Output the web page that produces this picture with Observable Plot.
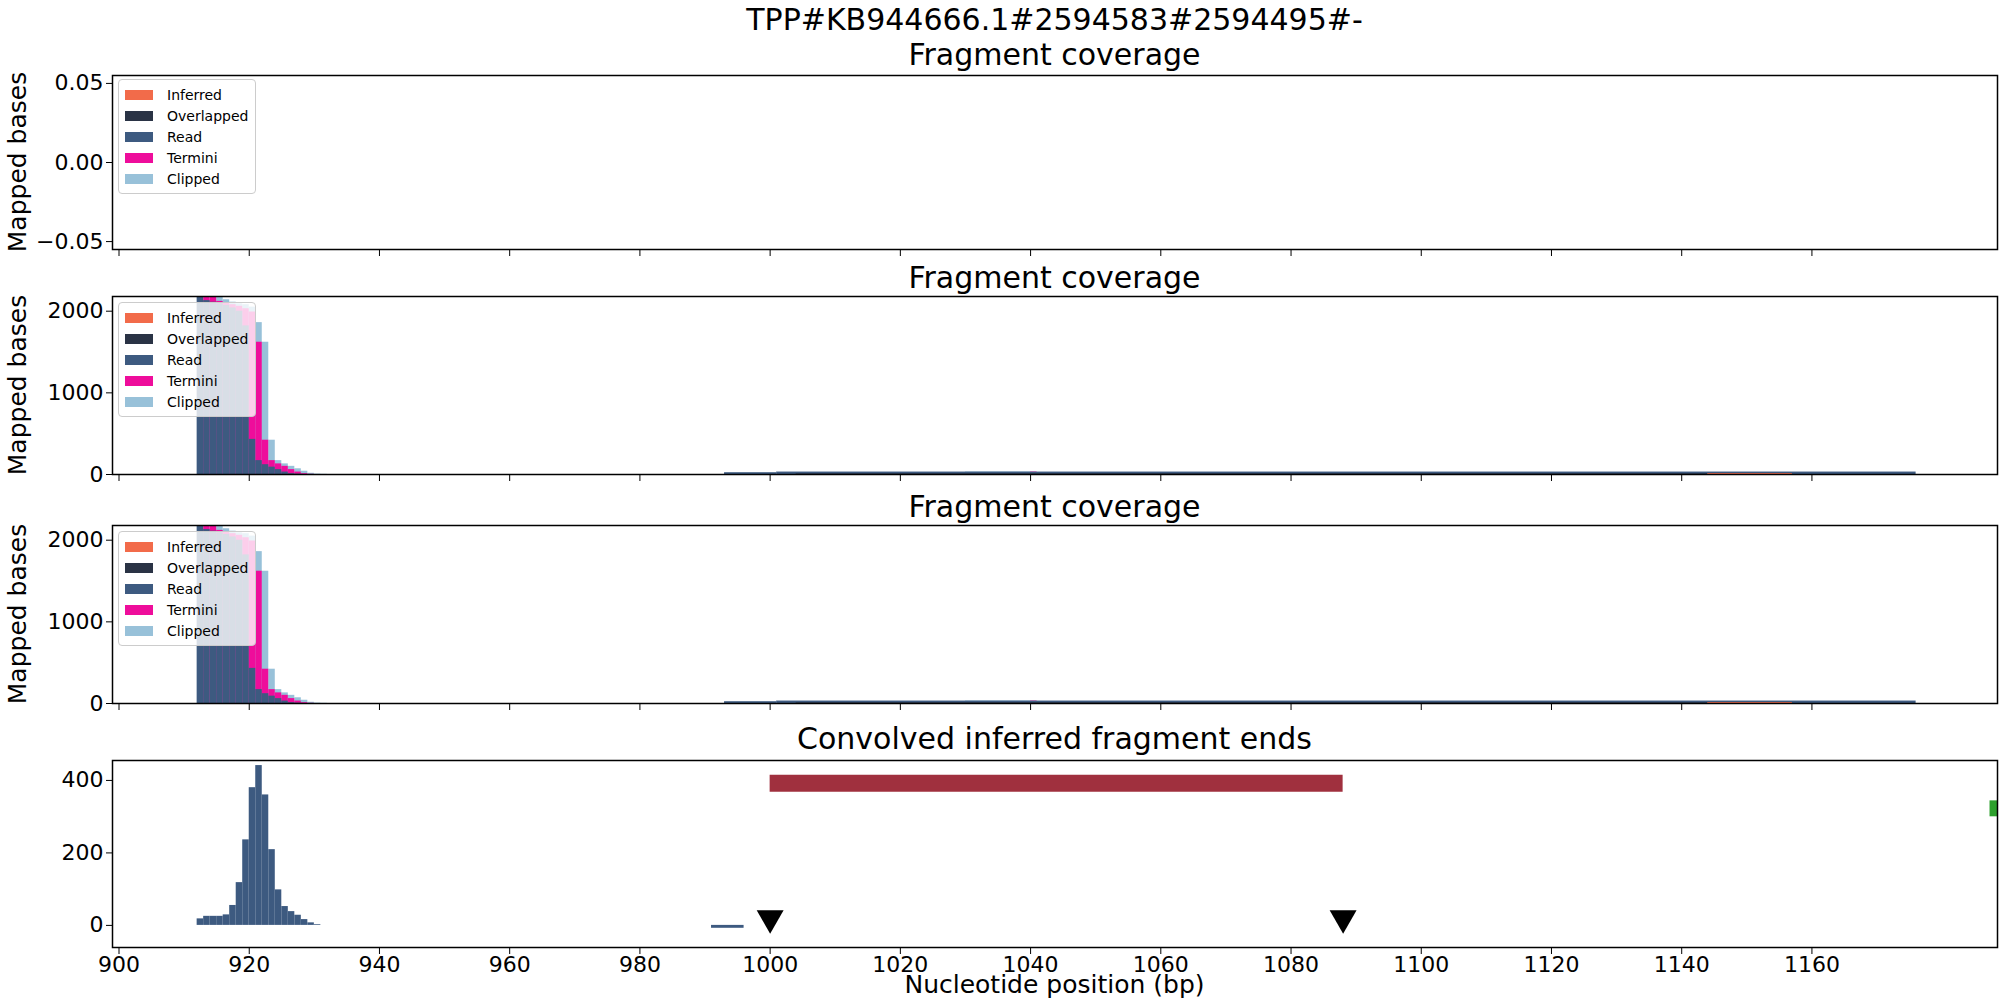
<!DOCTYPE html>
<html>
<head>
<meta charset="utf-8">
<script src="https://cdn.jsdelivr.net/npm/d3@7"></script>
<script src="https://cdn.jsdelivr.net/npm/@observablehq/plot@0.6"></script>
<style>
  body { margin: 0; background: white; font-family: "DejaVu Sans", sans-serif; }
  #root { position: relative; width: 2000px; height: 1000px; }
  .t { position: absolute; left: 112px; width: 1885px; text-align: center; color: #000; }
  .yl { position: absolute; left: 17px; width: 0; height: 0; }
  .yl span { position: absolute; transform: translate(-50%, -50%) rotate(-90deg); white-space: nowrap; font-size: 25px; }
  .legend { position: absolute; left: 118px; width: 130px; background: rgba(255,255,255,0.8);
    border: 1px solid #ccc; border-radius: 4px; padding: 4px 0 4px 6px; font-size: 14px; }
  .legend div { display: flex; align-items: center; height: 21px; }
  .legend span.sw { width: 28px; height: 10px; margin-right: 14px; display: inline-block; }
</style>
</head>
<body>
<div id="root"></div>
<script>
// coverage series, 1 bp bins starting at 912
const readStart = 912;
const readVals = [2170, 2130, 2110, 2090, 2070, 2040, 2000, 1820, 430, 170, 120, 90, 60, 30, 10, 5];
const terminiStart = 912;
const terminiVals = [2180, 2170, 2120, 2100, 2080, 2060, 2030, 1990, 1620, 420, 170, 130, 100, 60, 30, 10, 2];
const clippedStart = 912;
const clippedVals = [2150, 2180, 2140, 2110, 2090, 2080, 2050, 1860, 1620, 420, 170, 130, 100, 70, 40, 15, 5, 2];
// long low segments
const lowSegments = [
  { s: "Read", x1: 993, x2: 1001, v: 22 },
  { s: "Clipped", x1: 1030, x2: 1040, v: 30 },
  { s: "Termini", x1: 1040, x2: 1041, v: 30 },
  { s: "Read", x1: 1001, x2: 1176, v: 30 },
  { s: "Overlapped", x1: 1004, x2: 1144, v: 8 },
  { s: "Inferred", x1: 1144, x2: 1157, v: 12 }
];
// convolved inferred fragment ends
const endsStart = 912;
const endsVals = [18, 25, 25, 25, 29, 55, 118, 236, 380, 441, 360, 209, 98, 52, 38, 28, 16, 7, 2];
const negBar = [{ x1: 991, x2: 996, v: -8 }];
const fragment = [{ x1: 1000, x2: 1088, y: 392 }];
const endMarks = [1000, 1088];
const greenMark = [{ x: 1188.5, y: 323 }];

const series = ["Inferred", "Overlapped", "Read", "Termini", "Clipped"];
const colors = { Inferred: "#f26b4a", Overlapped: "#2a3345", Read: "#3d5a80", Termini: "#ee0d9b", Clipped: "#98c1d9" };
const xTicks = d3.range(900, 1161, 20);
const xDomain = [899, 1188.5];

const toBins = (start, vals, s, shift) => vals.map((v, i) => ({ s, x1: start + i + shift, x2: start + i + 1 + shift, v }));
// drawn back to front: clipped, termini, read
const covData = [
  ...toBins(clippedStart, clippedVals, "Clipped", 2),
  ...toBins(terminiStart, terminiVals, "Termini", 1),
  ...toBins(readStart, readVals, "Read", 0)
];

const root = document.getElementById("root");
function addText(txt, top, size) {
  const d = document.createElement("div");
  d.className = "t";
  d.style.top = (top - size * 0.6) + "px";
  d.style.fontSize = size + "px";
  d.textContent = txt;
  root.appendChild(d);
}
function addYLabel(txt, center) {
  const d = document.createElement("div");
  d.className = "yl";
  d.style.top = center + "px";
  d.innerHTML = `<span>${txt}</span>`;
  root.appendChild(d);
}
function addLegend(top) {
  const l = document.createElement("div");
  l.className = "legend";
  l.style.top = top + "px";
  for (const s of series) {
    const r = document.createElement("div");
    r.innerHTML = `<span class="sw" style="background:${colors[s]}"></span>${s}`;
    l.appendChild(r);
  }
  root.appendChild(l);
}
function place(chart, frameTop) {
  chart.style.position = "absolute";
  chart.style.left = "0px";
  chart.style.top = (frameTop - 2) + "px";
  root.appendChild(chart);
}

function coverage(frameTop, frameH, empty) {
  const marks = empty ? [] : [
    Plot.rect(lowSegments, { x1: "x1", x2: "x2", y1: 0, y2: "v", fill: (d) => colors[d.s] }),
    Plot.rect(covData, { x1: "x1", x2: "x2", y1: 0, y2: "v", fill: (d) => colors[d.s], inset: 0 })
  ];
  const chart = Plot.plot({
    width: 2000,
    height: frameH + 2 + 30,
    marginLeft: 112, marginRight: 3, marginTop: 2, marginBottom: 30,
    style: { fontSize: "22px", fontFamily: "DejaVu Sans", background: "transparent" },
    x: { domain: xDomain },
    y: empty ? { domain: [-0.055, 0.055] } : { domain: [0, 2180] },
    marks: [
      ...marks,
      Plot.axisY(empty ? [-0.05, 0, 0.05] : [0, 1000, 2000], {
        tickFormat: empty ? d3.format(".2f") : d3.format("d"), label: null, tickSize: 6
      }),
      Plot.axisX(xTicks, { tickFormat: () => "", label: null, tickSize: 7 }),
      Plot.frame({ stroke: "black", strokeWidth: 1.5 })
    ]
  });
  place(chart, frameTop);
  addYLabel("Mapped bases", frameTop + frameH / 2);
}

addText("TPP#KB944666.1#2594583#2594495#-", 20, 30);
addText("Fragment coverage", 55, 30);
coverage(75, 174, true);
addLegend(79);
addText("Fragment coverage", 278, 30);
coverage(296, 178, false);
addLegend(302);
addText("Fragment coverage", 507, 30);
coverage(525, 178, false);
addLegend(531);
addText("Convolved inferred fragment ends", 739, 30);

const endsData = toBins(endsStart, endsVals, "Read", 0);
const ends = Plot.plot({
  width: 2000,
  height: 187 + 2 + 40,
  marginLeft: 112, marginRight: 3, marginTop: 2, marginBottom: 40,
  style: { fontSize: "22px", fontFamily: "DejaVu Sans", background: "transparent" },
  x: { domain: xDomain },
  y: { domain: [-61, 455] },
  marks: [
    Plot.rect(endsData, { x1: "x1", x2: "x2", y1: 0, y2: "v", fill: colors.Read, inset: 0 }),
    Plot.rect(negBar, { x1: "x1", x2: "x2", y1: 0, y2: "v", fill: colors.Read }),
    Plot.ruleY(fragment, { x1: "x1", x2: "x2", y: "y", stroke: "#a0303e", strokeWidth: 17 }),
    Plot.dot(endMarks, { x: (d) => d, y: 20, symbol: "triangle", rotate: 180, fill: "black", r: 10 }),
    Plot.dot(greenMark, { x: "x", y: "y", symbol: "square", fill: "#2ca02c", r: 9, clip: true }),
    Plot.axisY([0, 200, 400], { label: null, tickSize: 6 }),
    Plot.axisX(xTicks, { label: null, tickSize: 7, tickPadding: 2, tickFormat: d3.format("d") }),
    Plot.frame({ stroke: "black", strokeWidth: 1.5 })
  ]
});
place(ends, 760);
addText("Nucleotide position (bp)", 985, 25);
</script>
</body>
</html>
